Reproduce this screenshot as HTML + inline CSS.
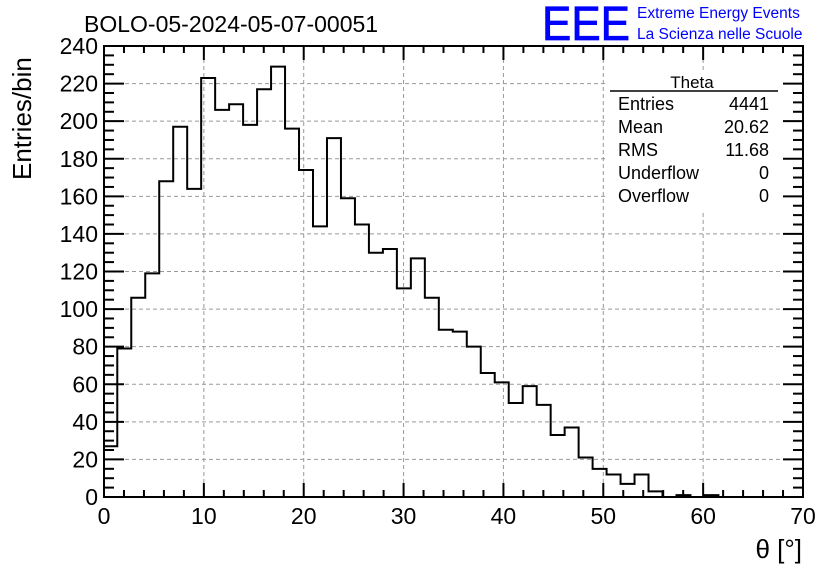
<!DOCTYPE html>
<html><head><meta charset="utf-8"><style>
body{margin:0;background:#fff;}
svg{display:block;font-family:"Liberation Sans",sans-serif;}
</style></head><body>
<svg id="c" width="836" height="572" viewBox="0 0 836 572">
<rect width="836" height="572" fill="#fff"/>
<text x="84" y="32" font-size="23">BOLO-05-2024-05-07-00051</text>
<text x="542" y="40" font-size="48" fill="#0000ff" stroke="#0000ff" stroke-width="0.8" textLength="88" lengthAdjust="spacingAndGlyphs">EEE</text>
<text x="637" y="18" font-size="15.5" fill="#0000ff">Extreme Energy Events</text>
<text x="637" y="39" font-size="15.5" fill="#0000ff">La Scienza nelle Scuole</text>
<g id="grid"></g>
<g id="axes"></g>
<path id="hist" fill="none" stroke="#000" stroke-width="2"/>
<rect x="104" y="46" width="699" height="451" fill="none" stroke="#000" stroke-width="2"/>
<g font-size="18">
<rect x="608" y="70" width="172" height="140" fill="#fff"/>
<text x="692" y="88" text-anchor="middle" font-size="17">Theta</text>
<line x1="610" y1="91" x2="778" y2="91" stroke="#000" stroke-width="1.5"/>
<text x="618" y="110">Entries</text><text x="769" y="110" text-anchor="end">4441</text>
<text x="618" y="133">Mean</text><text x="769" y="133" text-anchor="end">20.62</text>
<text x="618" y="156">RMS</text><text x="769" y="156" text-anchor="end">11.68</text>
<text x="618" y="179">Underflow</text><text x="769" y="179" text-anchor="end">0</text>
<text x="618" y="202">Overflow</text><text x="769" y="202" text-anchor="end">0</text>
</g>
<text x="802" y="558" font-size="26" text-anchor="end">θ [°]</text>
<text transform="translate(31,180) rotate(-90)" font-size="26">Entries/bin</text>
</svg>
<script>
const binStart = -0.07;
const binWidth = 1.4;
const counts = [27,79,106,119,168,197,164,223,206,209,198,217,229,196,174,144,191,159,145,130,132,111,127,106,89,88,80,66,61,50,59,49,33,37,21,15,12,7,12,3,0,1,0,1,0,0,0,0,0,0];
const xTicks = [0,10,20,30,40,50,60,70];
const yTicks = [0,20,40,60,80,100,120,140,160,180,200,220,240];
const X0=104,X1=803,Y0=497,Y1=46;
const sx=v=>X0+(Math.max(0,Math.min(70,v)))/70*(X1-X0);
const sy=v=>Y0-v/240*(Y0-Y1);
const NS="http://www.w3.org/2000/svg";
const grid=document.getElementById('grid'), axes=document.getElementById('axes');
function mk(tag,attrs,parent){const e=document.createElementNS(NS,tag);for(const k in attrs)e.setAttribute(k,attrs[k]);parent.appendChild(e);return e;}
xTicks.forEach(t=>{
  const x=sx(t);
  if(t>0&&t<70){const g=mk('line',{x1:x,x2:x,y1:Y0,y2:Y1,stroke:'#999','stroke-dasharray':'4,3','stroke-width':1},grid);
  
  }
  mk('line',{x1:x,x2:x,y1:Y0,y2:Y0-14,stroke:'#000','stroke-width':2},axes);
  mk('line',{x1:x,x2:x,y1:Y1,y2:Y1+14,stroke:'#000','stroke-width':2},axes);
  const l=mk('text',{x:x,y:524,'font-size':23,'text-anchor':'middle'},axes);
  l.textContent=t;
  
  
  if(t<70)for(let i=1;i<5;i++){const xm=sx(t+2*i);
    mk('line',{x1:xm,x2:xm,y1:Y0,y2:Y0-7,stroke:'#000','stroke-width':2},axes);
    mk('line',{x1:xm,x2:xm,y1:Y1,y2:Y1+7,stroke:'#000','stroke-width':2},axes);}
});
yTicks.forEach(t=>{
  const y=sy(t);
  if(t>0&&t<240){const g=mk('line',{x1:X0,x2:X1,y1:y,y2:y,stroke:'#999','stroke-dasharray':'4,3','stroke-width':1},grid);
  
  }
  mk('line',{x1:X0,x2:X0+20,y1:y,y2:y,stroke:'#000','stroke-width':2},axes);
  mk('line',{x1:X1,x2:X1-20,y1:y,y2:y,stroke:'#000','stroke-width':2},axes);
  const l=mk('text',{x:98,y:y+8,'font-size':23,'text-anchor':'end'},axes);
  l.textContent=t;
  
  
  if(t<240)for(let i=1;i<4;i++){const ym=sy(t+5*i);
    mk('line',{x1:X0,x2:X0+10,y1:ym,y2:ym,stroke:'#000','stroke-width':2},axes);
    mk('line',{x1:X1,x2:X1-10,y1:ym,y2:ym,stroke:'#000','stroke-width':2},axes);}
});
let d='M'+sx(0)+','+sy(0);
counts.forEach((c,i)=>{
  const a=sx(binStart+i*binWidth), b=sx(binStart+(i+1)*binWidth);
  d+=' L'+a+','+sy(c)+' L'+b+','+sy(c);
});
d+=' L'+sx(binStart+counts.length*binWidth)+','+sy(0);
document.getElementById('hist').setAttribute('d',d);
</script>
</body></html>
